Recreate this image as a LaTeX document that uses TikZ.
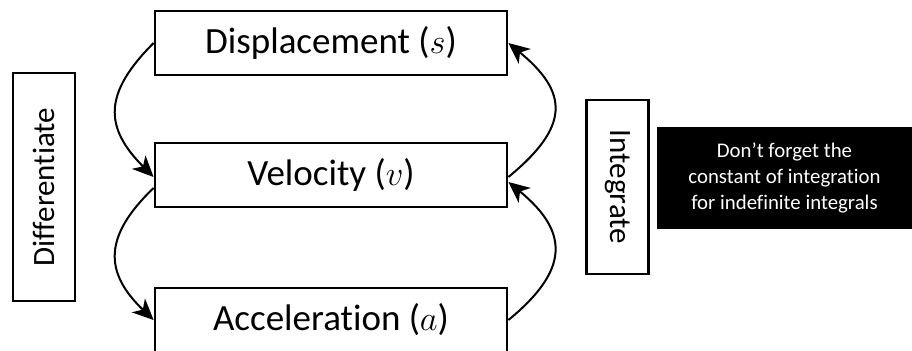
\documentclass[tikz,border=0pt]{standalone}
\usepackage{fontspec}
\setmainfont[Ligatures=NoCommon]{Carlito}
\usetikzlibrary{arrows.meta}
\begin{document}
\begin{tikzpicture}[x=0.5pt,y=-0.5pt,
  qbox/.style={draw=black,line width=1.4pt,fill=white,minimum width=176pt,minimum height=32pt,inner sep=0pt,font=\fontsize{18.5}{22}\selectfont},
  sidebox/.style={draw=black,line width=1.4pt,fill=white,minimum height=31pt,inner sep=0pt,font=\fontsize{15.5}{18}\selectfont},
  note/.style={fill=black,text=white,minimum width=127.5pt,minimum height=51pt,inner sep=0pt,align=center,font=\fontsize{10.4}{13}\selectfont},
  link/.style={line width=1pt,-{Stealth[length=10.5pt,width=9.5pt,inset=3pt]}}
]
\clip (0,0) rectangle (912,350);
\node[qbox] (D) at (331,43) {Displacement ($s$)};
\node[qbox] (V) at (331,175) {Velocity ($v$)};
\node[qbox] (A) at (331,320) {Acceleration ($a$)};
\node[sidebox,rotate=90,minimum width=114pt] (Dif) at (44,187) {Differentiate};
\node[sidebox,rotate=-90,minimum width=87pt] (Int) at (617.5,187) {Integrate};
\node[note] (N) at (784.5,178) {Don’t forget the\\constant of integration\\for indefinite integrals};
\draw[link] (D.west) .. controls +(-50,50) and +(-50,-50) .. ([yshift=-1pt]V.west);
\draw[link] ([yshift=-6.5pt]V.west) .. controls +(-50,48) and +(-50,-48) .. (A.west);
\draw[link] ([yshift=-1pt]V.east) .. controls +(61,-50) and +(61,50) .. (D.east);
\draw[link] (A.east) .. controls +(61,-50) and +(61,50) .. ([yshift=-3.5pt]V.east);
\end{tikzpicture}
\end{document}
